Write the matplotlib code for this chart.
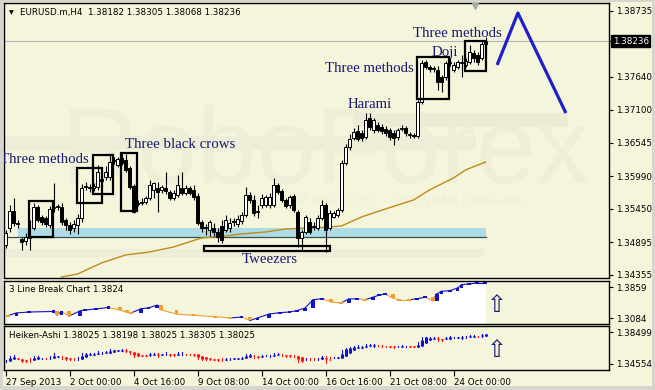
import numpy as np
import matplotlib
matplotlib.use("Agg")
import matplotlib.pyplot as plt
from matplotlib.patches import Rectangle
from matplotlib.transforms import blended_transform_factory

# ---------------- data ----------------
opens = [1.34852,1.35135,1.35417,1.35217,1.34952,1.34919,1.34969,1.35135,1.35483,1.35317,
         1.35300,1.35184,1.35466,1.35483,1.35483,1.35267,1.35184,1.35135,1.35184,1.35300,
         1.35815,1.35815,1.35798,1.35815,1.35947,1.35981,1.35981,1.36246,1.36180,1.36296,
         1.36263,1.36130,1.35831,1.35533,1.35549,1.35566,1.35632,1.35765,1.35798,1.35765,
         1.35798,1.35732,1.35632,1.35682,1.35798,1.35715,1.35798,1.35765,1.35665,1.35234,
         1.35135,1.35101,1.35135,1.35068,1.35168,1.35101,1.35135,1.35234,1.35201,1.35251,
         1.35350,1.35682,1.35599,1.35400,1.35516,1.35516,1.35516,1.35516,1.35848,1.35748,
         1.35599,1.35516,1.35665,1.35400,1.34969,1.35068,1.35234,1.35151,1.35135,1.35300,
         1.35516,1.35135,1.35317,1.35350,1.35433,1.36213,1.36478,1.36628,1.36744,1.36711,
         1.36644,1.36959,1.36760,1.36843,1.36810,1.36777,1.36760,1.36711,1.36644,1.36777,
         1.36794,1.36677,1.36661,1.36661,1.37225,1.37888,1.37806,1.37772,1.37756,1.37640,
         1.37640,1.37872,1.37756,1.37806,1.37872,1.37839,1.37888,1.38038,1.38005,1.37955,
         1.38182]
highs = [1.35101,1.35516,1.35632,1.35267,1.34985,1.35052,1.35267,1.35549,1.35516,1.35350,
         1.35334,1.35500,1.35881,1.35533,1.35549,1.35300,1.35234,1.35267,1.35367,1.35864,
         1.35898,1.35864,1.35881,1.36180,1.35997,1.36163,1.36346,1.36312,1.36312,1.36395,
         1.36362,1.36163,1.35864,1.35599,1.35632,1.35665,1.35931,1.35898,1.35898,1.35848,
         1.36064,1.35765,1.35765,1.36014,1.36064,1.35848,1.35831,1.35848,1.35715,1.35267,
         1.35201,1.35267,1.35217,1.35135,1.35267,1.35350,1.35300,1.35300,1.35350,1.35400,
         1.35815,1.35732,1.35682,1.35516,1.35699,1.35682,1.35715,1.35964,1.35881,1.35782,
         1.35632,1.35682,1.35699,1.35433,1.35101,1.35350,1.35300,1.35234,1.35350,1.35599,
         1.35549,1.35433,1.35417,1.35466,1.36263,1.36528,1.36694,1.36794,1.36843,1.36760,
         1.37042,1.37042,1.36959,1.36893,1.36860,1.36827,1.36794,1.36760,1.36794,1.36843,
         1.36827,1.36727,1.36711,1.37258,1.37922,1.37922,1.37839,1.37822,1.37822,1.37673,
         1.37905,1.37955,1.37888,1.37922,1.38005,1.37955,1.38170,1.38088,1.38054,1.38253,
         1.38305]
lows = [1.34803,1.35068,1.35168,1.35135,1.34770,1.34852,1.34770,1.35101,1.35234,1.35184,
        1.35151,1.35135,1.35400,1.35433,1.35184,1.35101,1.35035,1.35068,1.35035,1.35234,
        1.35765,1.35732,1.35748,1.35765,1.35848,1.35931,1.35931,1.36196,1.36146,1.36180,
        1.36064,1.35782,1.35383,1.35500,1.35516,1.35533,1.35599,1.35632,1.35400,1.35715,
        1.35699,1.35599,1.35599,1.35649,1.35682,1.35682,1.35682,1.35599,1.35184,1.35068,
        1.35018,1.35002,1.35002,1.34902,1.34886,1.35068,1.35068,1.35168,1.35151,1.35201,
        1.35317,1.35549,1.35334,1.35300,1.35466,1.35483,1.35466,1.35483,1.35699,1.35566,
        1.35466,1.35466,1.35400,1.34819,1.34770,1.35035,1.35035,1.35101,1.35101,1.35267,
        1.34736,1.35101,1.35300,1.35317,1.35400,1.36180,1.36429,1.36594,1.36578,1.36578,
        1.36611,1.36760,1.36711,1.36727,1.36694,1.36661,1.36594,1.36511,1.36594,1.36744,
        1.36661,1.36628,1.36628,1.36628,1.37192,1.37772,1.37723,1.37723,1.37424,1.37391,
        1.37590,1.37822,1.37723,1.37772,1.37640,1.37806,1.37855,1.37888,1.37839,1.37922,
        1.38068]
closes = [1.35052,1.35417,1.35217,1.35201,1.34902,1.34985,1.35002,1.35483,1.35267,1.35234,
          1.35201,1.35450,1.35483,1.35500,1.35234,1.35184,1.35101,1.35201,1.35300,1.35798,
          1.35831,1.35798,1.35831,1.36064,1.35914,1.36064,1.36229,1.36263,1.36279,1.36213,
          1.36097,1.35815,1.35400,1.35549,1.35566,1.35632,1.35848,1.35881,1.35732,1.35815,
          1.35748,1.35632,1.35715,1.35848,1.35715,1.35798,1.35715,1.35649,1.35217,1.35135,
          1.35151,1.35234,1.35068,1.34985,1.34935,1.35267,1.35217,1.35251,1.35284,1.35350,
          1.35682,1.35599,1.35383,1.35417,1.35632,1.35649,1.35649,1.35848,1.35732,1.35599,
          1.35500,1.35649,1.35433,1.34969,1.35068,1.35317,1.35068,1.35168,1.35300,1.35516,
          1.35101,1.35383,1.35383,1.35433,1.36213,1.36478,1.36611,1.36727,1.36611,1.36628,
          1.36926,1.36810,1.36926,1.36760,1.36744,1.36711,1.36644,1.36628,1.36760,1.36794,
          1.36711,1.36694,1.36677,1.37225,1.37872,1.37806,1.37772,1.37789,1.37557,1.37557,
          1.37872,1.37888,1.37839,1.37888,1.37888,1.37905,1.38054,1.37955,1.37888,1.38182,
          1.38236]

# moving average samples (bar index, price)
ma_idx = [14, 18, 24, 30, 36, 42, 49, 55, 59, 65, 70, 81, 84, 89, 95, 102, 106, 112, 115, 120]
ma_val = [1.34322, 1.34371, 1.34554, 1.34687, 1.34736, 1.34819, 1.34969, 1.35002, 1.35035, 1.35068,
          1.35118, 1.35151, 1.35168, 1.35317, 1.35450, 1.35599, 1.35765, 1.35964, 1.36097, 1.36229]

# support zone and tweezers level
zone_lo, zone_hi = 1.34985, 1.35135
zone_start, zone_end = 3, 120
tweezers_lo, tweezers_hi = 1.34758, 1.34836
tweezers_start, tweezers_end = 49.6, 81.1

# pattern boxes: (bar from, bar to, price low, price high)
box_x0 = [5.9, 17.9, 21.9, 28.9, 102.9, 114.9]
box_x1 = [11.9, 24.1, 26.9, 32.9, 110.9, 120.1]
box_lo = [1.34985, 1.35549, 1.35699, 1.35417, 1.37275, 1.37739]
box_hi = [1.35582, 1.36130, 1.36346, 1.36379, 1.37971, 1.38237]

# pattern labels
lab_text = ["Three methods", "Three black crows", "Tweezers", "Harami", "Three methods", "Doji", "Three methods"]
lab_x = [-1.4, 43.6, 66.0, 91.0, 90.9, 109.9, 113.0]
lab_y = [1.36263, 1.36512, 1.34604, 1.37175, 1.37781, 1.38054, 1.38361]
lab_ha = ["left", "center", "center", "center", "center", "center", "center"]

# forecast zigzag
fc_idx = [122.9, 128.1, 140.1]
fc_val = [1.37839, 1.38701, 1.37042]

main_ticks = [1.38735, 1.37640, 1.37100, 1.36545, 1.35990, 1.35450, 1.34895, 1.34355]
last_price = 1.38236

# 3 Line Break indicator
lb_idx = [0.6, 2.7, 5.9, 12.0, 12.9, 14.0, 15.9, 18.6, 19.9, 22.6, 25.7, 28.6, 30.4, 31.4,
          33.9, 35.7, 37.9, 38.9, 42.7, 47.0, 52.4, 56.1, 59.0, 61.1, 63.0, 65.9, 68.6, 71.0,
          72.8, 74.9, 76.9, 79.1, 81.4, 83.9, 85.8, 87.8, 89.9, 91.8, 93.3, 94.9, 96.8, 98.4,
          100.8, 102.8, 104.9, 106.8, 107.8, 109.0, 111.1, 113.0, 114.0, 115.8, 117.8, 119.9]
lb_val = [1.3142, 1.3209, 1.3234, 1.3247, 1.3159, 1.3247, 1.3134, 1.3259, 1.3284, 1.3309,
          1.3347, 1.3284, 1.3222, 1.3209, 1.3317, 1.3334, 1.3409, 1.3284, 1.3184, 1.3152,
          1.3117, 1.3084, 1.3109, 1.3022, 1.3084, 1.3184, 1.3217, 1.3234, 1.3267, 1.3334,
          1.3542, 1.3566, 1.3484, 1.3459, 1.3559, 1.3566, 1.3542, 1.3601, 1.3652, 1.3684,
          1.3584, 1.3534, 1.3534, 1.3566, 1.3601, 1.3517, 1.3684, 1.3751, 1.3767, 1.3834,
          1.3917, 1.3934, 1.3959, 1.3959]
lb_type = ["d", "u", "u", "u", "d", "u", "d", "u", "u", "u", "u", "d", "d", "d",
           "u", "u", "u", "d", "d", "d", "d", "d", "u", "d", "u", "u", "u", "u",
           "u", "u", "u", "u", "d", "d", "u", "u", "d", "u", "u", "u", "d", "d",
           "d", "u", "u", "d", "u", "u", "u", "u", "u", "u", "u", "u"]
lb_ticks = [1.3859, 1.3084]
ha_ticks = [1.38499, 1.34554]

time_idx = [0, 16, 32, 48, 64, 80, 96, 112]
time_lab = ["27 Sep 2013", "2 Oct 00:00", "4 Oct 16:00", "9 Oct 08:00", "14 Oct 00:00",
            "16 Oct 16:00", "21 Oct 08:00", "24 Oct 00:00"]

# ---------------- layout ----------------
W, H = 655, 390
BG = "#F5F5DC"
FR = "#D6D6CE"
NAVY = "#191970"
BLUE = "#1212C8"
ORANGE = "#F0A030"
RED = "#FF1414"
TF = 6.3
WM = "#EEEED9"

def fr(x0, y0, x1, y1):
    return [x0 / W, 1 - y1 / H, (x1 - x0) / W, (y1 - y0) / H]

fig = plt.figure(figsize=(W / 100, H / 100), dpi=100, facecolor=FR)
fig.patches.append(Rectangle((3 / W, 1 - 386 / H), 649 / W, 384 / H, transform=fig.transFigure,
                             facecolor=BG, edgecolor="none", zorder=-10))

x_lo, x_hi = (4 - 5.5) / 4, (609 - 5.5) / 4
ax = fig.add_axes(fr(4, 3, 609, 277.5))
ax1 = fig.add_axes(fr(4, 280.7, 609, 324))
ax2 = fig.add_axes(fr(4, 326, 609, 370))

for a in (ax, ax1, ax2):
    a.set_facecolor(BG)
    a.set_xlim(x_lo, x_hi)
    for s in a.spines.values():
        s.set_color("black")
        s.set_linewidth(1.0)
    a.yaxis.tick_right()
    a.tick_params(axis="y", direction="out", length=3, width=0.8, pad=2, labelsize=TF)
    a.tick_params(axis="x", bottom=False, labelbottom=False)

# ---------------- main chart ----------------
ax.set_ylim(1.34313, 1.38867)
ax.set_yticks(main_ticks + [last_price])
ax.set_yticklabels([f"{v:.5f}" for v in main_ticks] + [""])
ax.text(1.006, last_price, f"{last_price:.5f}", transform=blended_transform_factory(ax.transAxes, ax.transData),
        ha="left", va="center", fontsize=TF, color="white",
        bbox=dict(boxstyle="square,pad=0.15", facecolor="black", edgecolor="black"), clip_on=False)

# watermark
ax.text(13.6, 1.35881, "RoboForex", fontsize=77, family="Liberation Sans", color=WM,
        ha="left", va="baseline", zorder=0)
ax.text(60, 1.35570, "ПОЛЬЗУЙ РОБОТОВ — ПОЛУЧАЙ ПРИБЫЛЬ", fontsize=9, family="DejaVu Sans",
        color="#EFEFDA", ha="left", va="center", zorder=0)
ax.add_patch(Rectangle((x_lo, 1.36429), 117.5 - x_lo, 0.00232, facecolor="#EDEDD8", edgecolor="none", zorder=0.1))
ax.add_patch(Rectangle((x_lo, 1.34653), 119.5 - x_lo, 0.00133, facecolor="#EDEDD8", edgecolor="none", zorder=0.1))
ax.add_patch(Rectangle((86.9, 1.36810), 53.6, 0.00232, facecolor="#EBEBD6", edgecolor="none", zorder=0.1))

# bid line
ax.axhline(last_price, color="#B4B4B4", lw=0.8, zorder=0.5)

# support zone
ax.add_patch(Rectangle((zone_start, zone_lo), zone_end - zone_start, zone_hi - zone_lo,
                       facecolor="#ADDCE6", edgecolor="none", zorder=1))
ax.plot([-0.1, zone_end], [zone_lo, zone_lo], color="#3C5050", lw=0.9, zorder=1.2)

# tweezers bar
ax.add_patch(Rectangle((tweezers_start, tweezers_lo), tweezers_end - tweezers_start, tweezers_hi - tweezers_lo,
                       facecolor=BG, edgecolor="black", lw=1.6, zorder=1.5))

# moving average
ax.plot(ma_idx, ma_val, color="#C08A1A", lw=1.0, zorder=2)

# candles
bw = 0.72
for i, (o, h, l, c) in enumerate(zip(opens, highs, lows, closes)):
    ax.plot([i, i], [l, h], color="black", lw=0.8, zorder=3, solid_capstyle="butt")
    lo_b, hi_b = min(o, c), max(o, c)
    hgt = max(hi_b - lo_b, 0.00008)
    ax.add_patch(Rectangle((i - bw / 2, lo_b), bw, hgt, facecolor="white" if c >= o else "black",
                           edgecolor="black", lw=0.7, zorder=4))

# pattern boxes
for x0, x1, lo, hi in zip(box_x0, box_x1, box_lo, box_hi):
    ax.add_patch(Rectangle((x0, lo), x1 - x0, hi - lo, facecolor="none", edgecolor="black", lw=1.6, zorder=5))

# pattern labels
for t, x, y, ha in zip(lab_text, lab_x, lab_y, lab_ha):
    ax.text(x, y, t, fontsize=10.7, family="Liberation Serif", color=NAVY, ha=ha, va="center",
            zorder=6, clip_on=True)

# forecast
ax.plot(fc_idx, fc_val, color="#2020C8", lw=2.3, zorder=6, solid_capstyle="butt")

# header
ax.text(0.008, 1 - 10 / 274.5, "\u25BC", transform=ax.transAxes, fontsize=4.5, ha="left", va="center")
ax.text(0.026, 1 - 10 / 274.5, "EURUSD.m,H4  1.38182 1.38305 1.38068 1.38236", transform=ax.transAxes,
        fontsize=TF, ha="left", va="center")
ax.plot([117.4], [1 - 2.5 / 274.5], marker="v", color="#A8A8A8", markersize=5,
        transform=blended_transform_factory(ax.transData, ax.transAxes), clip_on=False, zorder=7)

# ---------------- 3 Line Break ----------------
ax1.set_ylim(1.2934, 1.40165)
ax1.set_yticks(lb_ticks)
ax1.set_yticklabels([f"{v:.4f}" for v in lb_ticks])
ax1.fill_between(lb_idx, lb_val, 1.2934, color="white", lw=0, zorder=1)
for k in range(1, len(lb_idx)):
    ax1.plot(lb_idx[k - 1:k + 1], lb_val[k - 1:k + 1], color=ORANGE if lb_type[k] == "d" else BLUE,
             lw=0.8, zorder=2)
for k in range(len(lb_idx)):
    col = BLUE if lb_type[k] == "u" else ORANGE
    prev = lb_val[k - 1] if k > 0 else lb_val[k]
    lo_b, hi_b = min(prev, lb_val[k]), max(prev, lb_val[k])
    if hi_b - lo_b < 0.0055:
        mid = lb_val[k]
        lo_b, hi_b = mid - 0.0028, mid + 0.0028
    ax1.add_patch(Rectangle((lb_idx[k] - 0.45, lo_b), 0.9, hi_b - lo_b, facecolor=col, edgecolor="none", zorder=3))
ax1.text(0.008, 1 - 9 / 43.3, "3 Line Break Chart 1.3824", transform=ax1.transAxes, fontsize=TF,
         ha="left", va="center")
ax1.text(0.815, 0.45, "\u21E7", transform=ax1.transAxes, fontsize=17, color=NAVY, ha="center", va="center",
         family="DejaVu Sans")

# ---------------- Heiken-Ashi ----------------
ax2.set_ylim(1.33814, 1.39239)
ax2.set_yticks(ha_ticks)
ax2.set_yticklabels([f"{v:.5f}" for v in ha_ticks])
o_a, h_a, l_a, c_a = map(np.array, (opens, highs, lows, closes))
ha_c = (o_a + h_a + l_a + c_a) / 4
ha_o = np.empty_like(ha_c)
ha_o[0] = (o_a[0] + c_a[0]) / 2
for i in range(1, len(ha_c)):
    ha_o[i] = (ha_o[i - 1] + ha_c[i - 1]) / 2
ha_h = np.maximum(h_a, np.maximum(ha_o, ha_c))
ha_l = np.minimum(l_a, np.minimum(ha_o, ha_c))
for i in range(len(ha_c)):
    col = BLUE if ha_c[i] >= ha_o[i] else RED
    ax2.plot([i, i], [ha_l[i], ha_h[i]], color=col, lw=0.8, zorder=2)
    ax2.plot([i, i], [ha_o[i], ha_c[i]], color=col, lw=2.2, zorder=3, solid_capstyle="butt")
ax2.text(0.008, 1 - 9 / 44, "Heiken-Ashi 1.38025 1.38198 1.38025 1.38305 1.38025", transform=ax2.transAxes,
         fontsize=TF, ha="left", va="center")
ax2.text(0.815, 0.45, "\u21E7", transform=ax2.transAxes, fontsize=17, color=NAVY, ha="center", va="center",
         family="DejaVu Sans")

ax2.tick_params(axis="x", bottom=True, labelbottom=True, direction="out", length=4, width=0.8,
                pad=2, labelsize=TF)
ax2.set_xticks(time_idx)
ax2.set_xticklabels(time_lab, ha="left")

fig.savefig("out.png", dpi=100, facecolor=FR)
